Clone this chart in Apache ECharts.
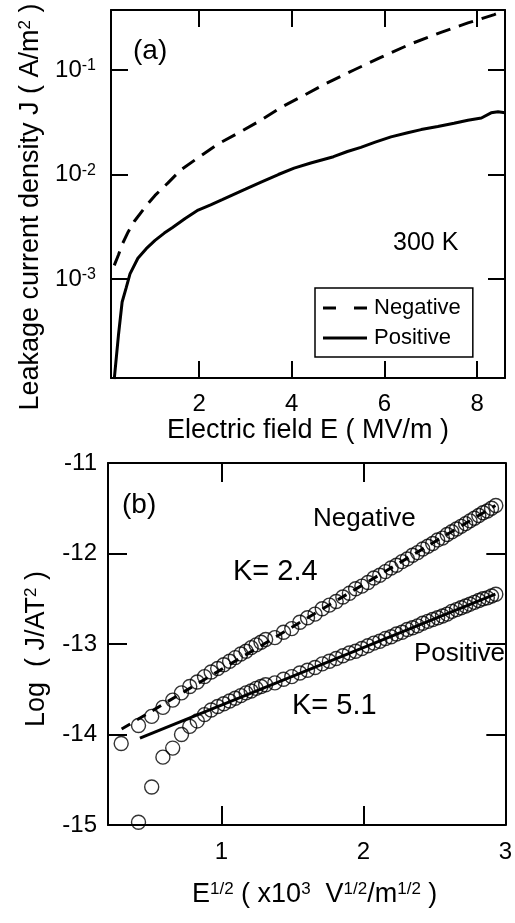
<!DOCTYPE html>
<html>
<head>
<meta charset="utf-8">
<script src="https://cdn.jsdelivr.net/npm/echarts@6/dist/echarts.min.js"></script>
<style>
  html, body { margin: 0; padding: 0; background: #fff; }
  #main { width: 515px; height: 923px; }
</style>
</head>
<body>
<div id="main"></div>
<script>
// (a) J-E curves, E in MV/m, J in A/m^2
const negE = [0.17, 0.26, 0.34, 0.47, 0.6, 0.84, 1.05, 1.33, 1.6, 1.98, 2.4, 2.9, 3.3, 3.76, 4.19, 4.69, 5.34, 5.92, 6.57, 7.22, 7.8, 8.37, 8.6];
const negJ = [1.35e-3, 1.70e-3, 2.14e-3, 2.82e-3, 3.55e-3, 4.90e-3, 6.31e-3, 8.32e-3, 1.10e-2, 1.45e-2, 1.95e-2, 2.57e-2, 3.24e-2, 4.37e-2, 5.50e-2, 7.24e-2, 0.100, 0.132, 0.178, 0.229, 0.282, 0.339, 0.372];
const posE = [0.17, 0.26, 0.34, 0.43, 0.51, 0.68, 0.86, 1.05, 1.25, 1.42, 1.7, 1.98, 2.25, 2.5, 2.75, 3.0, 3.35, 3.71, 4.05, 4.41, 4.9, 5.2, 5.49, 5.8, 6.14, 6.5, 6.79, 7.15, 7.5, 7.8, 8.09, 8.3, 8.45, 8.6];
const posJ = [1.10e-4, 2.88e-4, 6.03e-4, 8.32e-4, 1.12e-3, 1.58e-3, 1.95e-3, 2.34e-3, 2.75e-3, 3.09e-3, 3.80e-3, 4.57e-3, 5.13e-3, 5.75e-3, 6.46e-3, 7.24e-3, 8.51e-3, 1.00e-2, 1.15e-2, 1.29e-2, 1.48e-2, 1.66e-2, 1.82e-2, 2.04e-2, 2.29e-2, 2.51e-2, 2.69e-2, 2.88e-2, 3.09e-2, 3.31e-2, 3.47e-2, 3.89e-2, 3.98e-2, 3.89e-2];
const aTicksX = [2, 4, 6, 8];
const aTicksY = [1e-3, 1e-2, 1e-1];

// (b) Schottky plot, E^1/2 in x10^3 V^1/2/m^1/2
const sqrtE = [0.293, 0.415, 0.508, 0.587, 0.656, 0.718, 0.776, 0.829, 0.880, 0.927, 0.973, 1.016, 1.057, 1.097, 1.136, 1.173, 1.209, 1.244, 1.278, 1.311,
  1.376, 1.437, 1.495, 1.552, 1.606, 1.659, 1.710, 1.760, 1.808, 1.855, 1.901, 1.945, 1.989, 2.032, 2.074, 2.115, 2.155, 2.195, 2.233, 2.272,
  2.309, 2.346, 2.382, 2.418, 2.454, 2.488, 2.523, 2.557, 2.590, 2.623, 2.656, 2.688, 2.720, 2.751, 2.782, 2.813, 2.843, 2.873, 2.903, 2.933];
const negLog = [-14.10, -13.90, -13.80, -13.70, -13.62, -13.54, -13.47, -13.42, -13.36, -13.31, -13.27, -13.23, -13.19, -13.15, -13.11, -13.08, -13.04, -13.01, -12.98, -12.95,
  -12.93, -12.87, -12.83, -12.76, -12.71, -12.67, -12.61, -12.57, -12.53, -12.48, -12.44, -12.39, -12.36, -12.32, -12.27, -12.24, -12.20, -12.16, -12.13, -12.09,
  -12.06, -12.02, -11.99, -11.95, -11.92, -11.89, -11.85, -11.83, -11.79, -11.76, -11.73, -11.70, -11.67, -11.64, -11.61, -11.58, -11.55, -11.53, -11.50, -11.47];
const posLog = [null, -14.97, -14.58, -14.25, -14.15, -14.00, -13.91, -13.85, -13.78, -13.73, -13.69, -13.66, -13.63, -13.60, -13.57, -13.54, -13.52, -13.49, -13.47, -13.45,
  -13.43, -13.39, -13.36, -13.32, -13.29, -13.26, -13.22, -13.19, -13.16, -13.13, -13.10, -13.08, -13.05, -13.02, -12.99, -12.97, -12.94, -12.92, -12.89, -12.87,
  -12.84, -12.82, -12.80, -12.77, -12.75, -12.73, -12.71, -12.69, -12.67, -12.64, -12.62, -12.60, -12.58, -12.56, -12.54, -12.52, -12.50, -12.49, -12.47, -12.45];
const negFitX = [0.296, 2.93];
const negFitY = [-13.94, -11.47];
const posFitX = [0.425, 2.93];
const posFitY = [-14.04, -12.45];
const bTicksX = [1, 2, 3];

const FONT = '"Liberation Sans", Arial, sans-serif';
const BLACK = '#000';

function pairs(xs, ys) {
  return xs.map((x, i) => [x, ys[i]]);
}

function frameAxis(extra) {
  return Object.assign({
    axisLine: { show: true, onZero: false, lineStyle: { color: BLACK, width: 2 } },
    axisTick: { show: true, inside: true, length: 17, lineStyle: { color: BLACK, width: 2 } },
    axisLabel: { show: false },
    splitLine: { show: false },
    minorTick: { show: false }
  }, extra);
}

// rich styles for superscripts
const tickRich = {
  n: { fontSize: 24, fontFamily: FONT, color: BLACK },
  s: { fontSize: 16, fontFamily: FONT, color: BLACK, verticalAlign: 'top' }
};
const nameRich = {
  n: { fontSize: 27, fontFamily: FONT, color: BLACK },
  s: { fontSize: 17, fontFamily: FONT, color: BLACK, verticalAlign: 'top' }
};

let chart = echarts.init(document.getElementById('main'), null, { renderer: 'canvas' });

let option = {
  animation: false,
  backgroundColor: '#fff',
  textStyle: { fontFamily: FONT, color: BLACK },
  grid: [
    { left: 111, top: 10, width: 394, height: 368 },
    { left: 108, top: 463, width: 399, height: 362 }
  ],
  legend: {
    data: [
      { name: 'Negative', icon: 'path://M0,0H13V3H0Z M31,0H44V3H31Z' },
      { name: 'Positive', icon: 'path://M0,0H44V3H0Z' }
    ],
    orient: 'vertical',
    left: 315,
    top: 288,
    itemWidth: 44,
    itemHeight: 3,
    itemGap: 8,
    padding: [9, 12, 8, 8],
    borderColor: BLACK,
    borderWidth: 1.5,
    itemStyle: { color: BLACK },
    textStyle: { fontSize: 22, color: BLACK, fontFamily: FONT, padding: [0, 0, 0, 2] }
  },
  xAxis: [
    frameAxis({
      gridIndex: 0, type: 'value', position: 'bottom', min: 0.1, max: 8.6,
      axisTick: { show: true, inside: true, length: 17, customValues: aTicksX, lineStyle: { color: BLACK, width: 2 } },
      axisLabel: { show: true, customValues: aTicksX, margin: 14, fontSize: 24, color: BLACK, fontFamily: FONT },
      name: 'Electric field E ( MV/m )', nameLocation: 'middle', nameGap: 39,
      nameTextStyle: { fontSize: 27, color: BLACK, fontFamily: FONT }
    }),
    frameAxis({
      gridIndex: 0, type: 'value', position: 'top', min: 0.1, max: 8.6,
      axisTick: { show: true, inside: true, length: 17, customValues: aTicksX, lineStyle: { color: BLACK, width: 2 } }
    }),
    frameAxis({
      gridIndex: 1, type: 'value', position: 'bottom', min: 0.2, max: 3,
      axisTick: { show: true, inside: true, length: 19, customValues: bTicksX, lineStyle: { color: BLACK, width: 2 } },
      axisLabel: { show: true, customValues: bTicksX, margin: 15, fontSize: 24, color: BLACK, fontFamily: FONT },
      name: '{n|E}{s|1/2}{n| ( x10}{s|3}{n|  V}{s|1/2}{n|/m}{s|1/2}{n| )}', nameLocation: 'middle', nameGap: 56,
      nameTextStyle: { rich: nameRich, padding: [0, 0, 0, 16] }
    }),
    frameAxis({
      gridIndex: 1, type: 'value', position: 'top', min: 0.2, max: 3,
      axisTick: { show: true, inside: true, length: 19, customValues: bTicksX, lineStyle: { color: BLACK, width: 2 } }
    })
  ],
  yAxis: [
    frameAxis({
      gridIndex: 0, type: 'log', logBase: 10, position: 'left', min: 1.13e-4, max: 0.375,
      axisTick: { show: true, inside: true, length: 17, customValues: aTicksY, lineStyle: { color: BLACK, width: 2 } },
      axisLabel: {
        show: true, customValues: aTicksY, margin: 15,
        formatter: function (v) { return '{n|10}{s|' + Math.round(Math.log10(v)) + '}'; },
        rich: tickRich
      },
      name: '{n|Leakage current density J ( A/m}{s|2}{n| )}', nameLocation: 'middle', nameGap: 63,
      nameTextStyle: { rich: nameRich, padding: [0, 26, 0, 0] }
    }),
    frameAxis({
      gridIndex: 0, type: 'log', logBase: 10, position: 'right', min: 1.13e-4, max: 0.375,
      axisTick: { show: true, inside: true, length: 17, customValues: aTicksY, lineStyle: { color: BLACK, width: 2 } }
    }),
    frameAxis({
      gridIndex: 1, type: 'value', position: 'left', min: -15, max: -11, interval: 1,
      axisTick: { show: true, inside: true, length: 19, lineStyle: { color: BLACK, width: 2 } },
      axisLabel: { show: true, margin: 11, fontSize: 24, color: BLACK, fontFamily: FONT },
      name: '{n|Log  ( J/AT}{s|2}{n| )}', nameLocation: 'middle', nameGap: 58,
      nameTextStyle: { rich: nameRich, padding: [0, 10, 0, 0] }
    }),
    frameAxis({
      gridIndex: 1, type: 'value', position: 'right', min: -15, max: -11, interval: 1,
      axisTick: { show: true, inside: true, length: 19, lineStyle: { color: BLACK, width: 2 } }
    })
  ],
  series: [
    {
      name: 'Negative', type: 'line', xAxisIndex: 0, yAxisIndex: 0,
      data: pairs(negE, negJ), showSymbol: false, symbol: 'none', smooth: false,
      lineStyle: { color: BLACK, width: 3, type: [15, 9] }, itemStyle: { color: BLACK }
    },
    {
      name: 'Positive', type: 'line', xAxisIndex: 0, yAxisIndex: 0,
      data: pairs(posE, posJ), showSymbol: false, symbol: 'none', smooth: false,
      lineStyle: { color: BLACK, width: 3 }, itemStyle: { color: BLACK }
    },
    {
      name: 'Negative (b)', type: 'scatter', xAxisIndex: 2, yAxisIndex: 2,
      data: pairs(sqrtE, negLog), symbol: 'circle', symbolSize: 14,
      itemStyle: { color: 'rgba(0,0,0,0)', borderColor: BLACK, borderWidth: 1.4 }
    },
    {
      name: 'Positive (b)', type: 'scatter', xAxisIndex: 2, yAxisIndex: 2,
      data: pairs(sqrtE, posLog).filter(p => p[1] !== null), symbol: 'circle', symbolSize: 14,
      itemStyle: { color: 'rgba(0,0,0,0)', borderColor: BLACK, borderWidth: 1.4 }
    },
    {
      name: 'Negative fit', type: 'line', xAxisIndex: 2, yAxisIndex: 2, z: 5,
      data: pairs(negFitX, negFitY), showSymbol: false, symbol: 'none',
      lineStyle: { color: BLACK, width: 3, type: [10, 8] }
    },
    {
      name: 'Positive fit', type: 'line', xAxisIndex: 2, yAxisIndex: 2, z: 5,
      data: pairs(posFitX, posFitY), showSymbol: false, symbol: 'none',
      lineStyle: { color: BLACK, width: 3 }
    }
  ],
  graphic: [
    { type: 'text', left: 133, top: 37, style: { text: '(a)', font: '28px ' + FONT, fill: BLACK } },
    { type: 'text', left: 393, top: 231, style: { text: '300 K', font: '25px ' + FONT, fill: BLACK } },
    { type: 'text', left: 122, top: 491, style: { text: '(b)', font: '28px ' + FONT, fill: BLACK } },
    { type: 'text', left: 313, top: 506, style: { text: 'Negative', font: '26px ' + FONT, fill: BLACK } },
    { type: 'text', left: 233, top: 557, style: { text: 'K= 2.4', font: '29px ' + FONT, fill: BLACK } },
    { type: 'text', left: 414, top: 641, style: { text: 'Positive', font: '26px ' + FONT, fill: BLACK } },
    { type: 'text', left: 292, top: 691, style: { text: 'K= 5.1', font: '29px ' + FONT, fill: BLACK } }
  ]
};

chart.setOption(option);
</script>
</body>
</html>
